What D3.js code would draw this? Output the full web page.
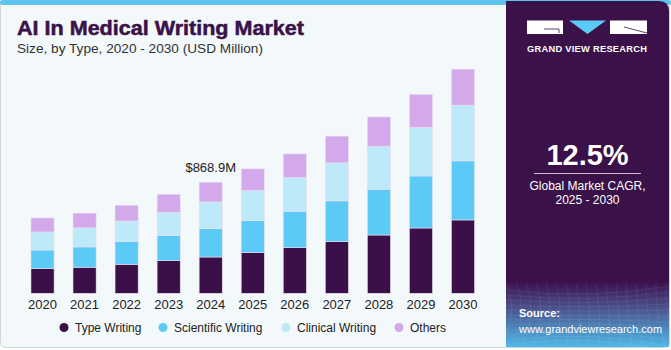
<!DOCTYPE html>
<html><head><meta charset="utf-8">
<script src="https://cdn.jsdelivr.net/npm/d3@7"></script>
<style>body{margin:0;background:#fff;}svg{display:block;}</style>
</head><body>
<script>
const years = ["2020","2021","2022","2023","2024","2025","2026","2027","2028","2029","2030"];
const typeWriting = [193,204,227,255,284,318,357,404,456,511,574];
const scientificWriting = [146,159,177,196,222,251,285,319,358,407,462];
const clinicalWriting = [141,149,162,183,209,235,263,298,337,381,436];
const others = [110,115,123,141,154,170,186,209,229,258,282];
const seriesNames = ["Type Writing","Scientific Writing","Clinical Writing","Others"];
const seriesColors = ["#3b0f48","#5ccaf6","#bee9f9","#d4a9eb"];
const annotationYear = "2024";
const annotationText = "$868.9M";
const cagrValue = "12.5%";

const W = 671, H = 350;
const svg = d3.select("body").append("svg").attr("width", W).attr("height", H);
const font = "'Liberation Sans', Arial, sans-serif";

// backgrounds
svg.append("rect").attr("x",0).attr("y",0).attr("width",W).attr("height",H).attr("fill","#ffffff");
svg.append("rect").attr("x",0.5).attr("y",0.5).attr("width",W-2).attr("height",H-3).attr("rx",5)
  .attr("fill","#f3f8fb").attr("stroke","#cfd6da");
svg.append("rect").attr("x",0).attr("y",0).attr("width",W).attr("height",5).attr("rx",2).attr("fill","#5ec4ef");

// right panel
const defs = svg.append("defs");
const grad = defs.append("linearGradient").attr("id","srcgrad").attr("x1",0).attr("y1",0).attr("x2",0).attr("y2",1);
grad.append("stop").attr("offset","0%").attr("stop-color","#3b1450");
grad.append("stop").attr("offset","35%").attr("stop-color","#4a4a86");
grad.append("stop").attr("offset","100%").attr("stop-color","#4fb8e8");
svg.append("path").attr("d","M506,1 H659 Q669,1 669,11 V347 H506 Z").attr("fill","#3a1148");
svg.append("rect").attr("x",506).attr("y",283).attr("width",163).attr("height",64).attr("fill","url(#srcgrad)");
// grid texture
const gg = svg.append("g").attr("stroke","#ffffff").attr("stroke-opacity",0.12).attr("stroke-width",0.6).attr("fill","none");
for(let i=0;i<12;i++){ gg.append("path").attr("d",`M506,${290+i*5} Q590,${300+i*3} 669,${286+i*6}`); }
for(let i=0;i<18;i++){ gg.append("path").attr("d",`M${506+i*10},283 Q${520+i*9},315 ${500+i*11},347`); }

// logo
svg.append("rect").attr("x",527).attr("y",20.5).attr("width",36).attr("height",13.5).attr("fill","#ffffff");
svg.append("path").attr("d","M544,29 H559 V33").attr("stroke","#3a1148").attr("stroke-width",0.8).attr("fill","none");
svg.append("path").attr("d","M569,20.5 H606 L587.5,34 Z").attr("fill","#5ccaf6");
svg.append("rect").attr("x",610).attr("y",20.5).attr("width",37).attr("height",13.5).attr("fill","#ffffff");
svg.append("path").attr("d","M624,27 L647,33").attr("stroke","#3a1148").attr("stroke-width",0.8);
svg.append("text").attr("x",527).attr("y",52).attr("fill","#ffffff")
  .attr("font-family",font).attr("font-weight","bold").attr("font-size",9.3)
  .attr("textLength",120).attr("lengthAdjust","spacing").text("GRAND VIEW RESEARCH");

svg.append("text").attr("x",587.5).attr("y",165).attr("text-anchor","middle").attr("fill","#ffffff")
  .attr("font-family",font).attr("font-weight","bold").attr("font-size",29).text(cagrValue);
svg.append("line").attr("x1",534).attr("x2",641).attr("y1",173.5).attr("y2",173.5).attr("stroke","#c9bcd2").attr("stroke-width",1);
svg.append("text").attr("x",587.5).attr("y",190).attr("text-anchor","middle").attr("fill","#ffffff")
  .attr("font-family",font).attr("font-size",12).text("Global Market CAGR,");
svg.append("text").attr("x",587.5).attr("y",204).attr("text-anchor","middle").attr("fill","#ffffff")
  .attr("font-family",font).attr("font-size",12).text("2025 - 2030");
svg.append("text").attr("x",519).attr("y",317).attr("fill","#ffffff")
  .attr("font-family",font).attr("font-weight","bold").attr("font-size",11).text("Source:");
svg.append("text").attr("x",519).attr("y",332.5).attr("fill","#ffffff")
  .attr("font-family",font).attr("font-size",11).text("www.grandviewresearch.com");

// titles
svg.append("text").attr("x",17).attr("y",35).attr("fill","#3a1148").attr("stroke","#3a1148").attr("stroke-width",0.5)
  .attr("font-family",font).attr("font-weight","bold").attr("font-size",20)
  .attr("textLength",287).attr("lengthAdjust","spacingAndGlyphs").text("AI In Medical Writing Market");
svg.append("text").attr("x",17).attr("y",53).attr("fill","#333333")
  .attr("font-family",font).attr("font-size",13.2)
  .attr("textLength",246).attr("lengthAdjust","spacingAndGlyphs").text("Size, by Type, 2020 - 2030 (USD Million)");

// chart
const data = years.map((y,i)=>({year:y, "Type Writing":typeWriting[i], "Scientific Writing":scientificWriting[i],
  "Clinical Writing":clinicalWriting[i], "Others":others[i]}));
const x = d3.scaleBand().domain(years).range([21.5, 484]).paddingInner(0.45).paddingOuter(0.225);
const y = d3.scaleLinear().domain([0,1800]).range([293.3, 293.3-1800*0.1278]);
const color = d3.scaleOrdinal().domain(seriesNames).range(seriesColors);
const stacked = d3.stack().keys(seriesNames)(data);

svg.append("g").selectAll("g").data(stacked).join("g").attr("fill",d=>color(d.key))
  .selectAll("rect").data(d=>d).join("rect")
  .attr("x",d=>x(d.data.year)).attr("width",x.bandwidth())
  .attr("y",d=>y(d[1])).attr("height",d=>y(d[0])-y(d[1]))
  .attr("stroke","#e8e0f0").attr("stroke-width",0.6);

const xAxis = svg.append("g").attr("transform",`translate(0,${y(0)})`)
  .call(d3.axisBottom(x).tickSize(0).tickPadding(6));
xAxis.select(".domain").remove();
xAxis.selectAll("text").attr("font-family",font).attr("font-size",13).attr("fill","#222");

// annotation
const idx = years.indexOf(annotationYear);
const total = typeWriting[idx]+scientificWriting[idx]+clinicalWriting[idx]+others[idx];
svg.append("text").attr("x",x(annotationYear)+x.bandwidth()/2).attr("y",y(total)-10).attr("text-anchor","middle")
  .attr("font-family",font).attr("font-size",13).attr("fill","#222").text(annotationText);

// legend
const legX = [64,163,286,399];
const leg = svg.append("g");
seriesNames.forEach((n,i)=>{
  leg.append("circle").attr("cx",legX[i]).attr("cy",327.5).attr("r",4.5).attr("fill",seriesColors[i]);
  leg.append("text").attr("x",legX[i]+11).attr("y",331.5).attr("font-family",font).attr("font-size",12).attr("fill","#222").text(n);
});
</script>
</body></html>
